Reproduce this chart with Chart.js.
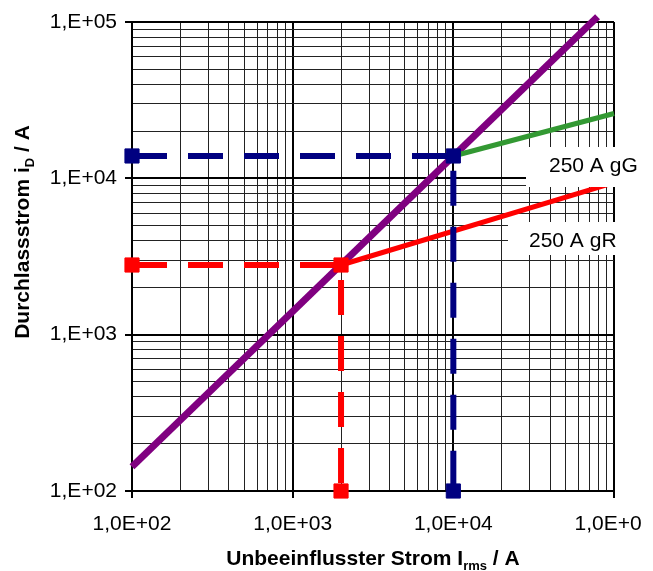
<!DOCTYPE html>
<html>
<head>
<meta charset="utf-8">
<script src="https://cdn.jsdelivr.net/npm/chart.js@4"></script>
<style>
  body { margin: 0; background: #fff; }
</style>
</head>
<body>
<canvas id="durchlass" width="641" height="571"></canvas>
<script>
// Werte (log-log, A)
const decades = [100, 1000, 10000, 100000];
const xTickLabels = ['1,0E+02', '1,0E+03', '1,0E+04', '1,0E+05'];
const yTickLabels = ['1,E+02', '1,E+03', '1,E+04', '1,E+05'];
const minorSteps = [1, 2, 3, 4, 5, 6, 7, 8, 9];

const fuseLabels = ['250 A gG', '250 A gR'];

// unbegrenzter Stossstrom (violett)
const peakX = [100, 79000];
const peakY = [143, 108000];

// Durchlasskennlinie 250 A gG (gruen)
const gGX = [10000, 100000];
const gGY = [13900, 26000];

// Durchlasskennlinie 250 A gR (rot)
const gRX = [2000, 100000];
const gRY = [2790, 9400];

// Ablesebeispiele (gestrichelt)
const gGReadX = [100, 10000, 10000];
const gGReadY = [13900, 13900, 100];
const gRReadX = [100, 2000, 2000];
const gRReadY = [2790, 2790, 100];

const gridValues = [];
decades.slice(0, 3).forEach(d => minorSteps.forEach(m => gridValues.push(d * m)));
gridValues.push(decades[3]);

const pts = (xs, ys) => xs.map((x, i) => ({ x: x, y: ys[i] }));

const FONT = '"Liberation Sans", Arial, sans-serif';
const isMajor = c => c.tick && c.tick.major;

function setTicks(scale) {
  scale.ticks = gridValues.map(v => ({ value: v, major: decades.includes(v) }));
}

function drawParts(c, parts, x, y) {
  parts.forEach(p => {
    c.font = p.sub ? 'bold 13px ' + FONT : 'bold 21px ' + FONT;
    c.fillText(p.t, x, p.sub ? y + 5 : y);
    x += c.measureText(p.t).width;
  });
}

function partsWidth(c, parts) {
  let w = 0;
  parts.forEach(p => {
    c.font = p.sub ? 'bold 13px ' + FONT : 'bold 21px ' + FONT;
    w += c.measureText(p.t).width;
  });
  return w;
}

const extras = {
  id: 'extras',
  afterDatasetsDraw(chart) {
    const c = chart.ctx;
    const a = chart.chartArea;
    c.save();
    c.font = '21px ' + FONT;
    c.textBaseline = 'middle';
    // Beschriftungen mit weissem Hintergrund
    const boxes = [
      { text: fuseLabels[0], x: a.right - 88, y: a.top + 125, h: 40, tx: a.right - 65 },
      { text: fuseLabels[1], x: a.right - 106, y: a.top + 200, h: 33, tx: a.right - 85 }
    ];
    boxes.forEach(b => {
      c.fillStyle = '#fff';
      c.fillRect(b.x, b.y, 140, b.h);
      c.fillStyle = '#000';
      c.fillText(b.text, b.tx, b.y + 19);
    });
    c.restore();
  },
  afterDraw(chart) {
    const c = chart.ctx;
    const a = chart.chartArea;
    c.save();
    c.fillStyle = '#000';
    c.textBaseline = 'alphabetic';
    const xTitle = [{ t: 'Unbeeinflusster Strom I' }, { t: 'rms', sub: true }, { t: ' / A' }];
    const xw = partsWidth(c, xTitle);
    drawParts(c, xTitle, (a.left + a.right) / 2 - xw / 2, 565);

    const yTitle = [{ t: 'Durchlassstrom i' }, { t: 'D', sub: true }, { t: ' / A' }];
    const yw = partsWidth(c, yTitle);
    c.translate(29, 232);
    c.rotate(-Math.PI / 2);
    drawParts(c, yTitle, -yw / 2, 0);
    c.restore();
  }
};

const dashed = (data, color) => ({
  data: data,
  showLine: true,
  borderColor: color,
  backgroundColor: color,
  borderWidth: 6,
  borderDash: [35, 21],
  borderCapStyle: 'butt',
  pointStyle: 'rect',
  pointRadius: 10,
  pointBorderWidth: 1,
  pointBorderColor: color,
  pointBackgroundColor: color,
  clip: false
});

const solid = (data, color, width) => ({
  data: data,
  showLine: true,
  borderColor: color,
  borderWidth: width,
  borderCapStyle: 'butt',
  pointRadius: 0,
  clip: false
});

new Chart(document.getElementById('durchlass'), {
  type: 'scatter',
  data: {
    datasets: [
      dashed(pts(gGReadX, gGReadY), '#000080'),
      dashed(pts(gRReadX, gRReadY), '#ff0000'),
      solid(pts(gRX, gRY), '#ff0000', 5),
      solid(pts(gGX, gGY), '#339933', 5),
      solid(pts(peakX, peakY), '#800080', 7)
    ]
  },
  options: {
    responsive: false,
    animation: false,
    events: [],
    layout: { padding: { top: 22, right: 27, left: 0, bottom: 0 } },
    plugins: {
      legend: { display: false },
      tooltip: { enabled: false }
    },
    elements: { line: { tension: 0 } },
    scales: {
      x: {
        type: 'logarithmic',
        min: 100,
        max: 100000,
        afterBuildTicks: setTicks,
        afterFit(scale) {
          scale.height = 80;
          scale.paddingLeft = 0;
          scale.paddingRight = 0;
        },
        ticks: {
          autoSkip: false,
          maxRotation: 0,
          padding: 14,
          color: '#000',
          font: { family: FONT, size: 21 },
          callback: v => {
            const i = decades.indexOf(v);
            return i >= 0 ? xTickLabels[i] : '';
          }
        },
        grid: {
          color: c => isMajor(c) ? '#000' : '#222',
          lineWidth: c => isMajor(c) ? 2 : 1,
          tickLength: 7,
          tickWidth: 2,
          tickColor: c => isMajor(c) ? '#000' : 'rgba(0,0,0,0)'
        },
        border: { color: '#000', width: 2 }
      },
      y: {
        type: 'logarithmic',
        min: 100,
        max: 100000,
        afterBuildTicks: setTicks,
        afterFit(scale) {
          scale.width = 132;
          scale.paddingTop = 0;
          scale.paddingBottom = 0;
        },
        ticks: {
          autoSkip: false,
          padding: 8,
          color: '#000',
          font: { family: FONT, size: 21 },
          callback: v => {
            const i = decades.indexOf(v);
            return i >= 0 ? yTickLabels[i] : '';
          }
        },
        grid: {
          color: c => isMajor(c) ? '#000' : '#222',
          lineWidth: c => isMajor(c) ? 2 : 1,
          tickLength: 7,
          tickWidth: 2,
          tickColor: c => isMajor(c) ? '#000' : 'rgba(0,0,0,0)'
        },
        border: { color: '#000', width: 2 }
      }
    }
  },
  plugins: [extras]
});
</script>
</body>
</html>
